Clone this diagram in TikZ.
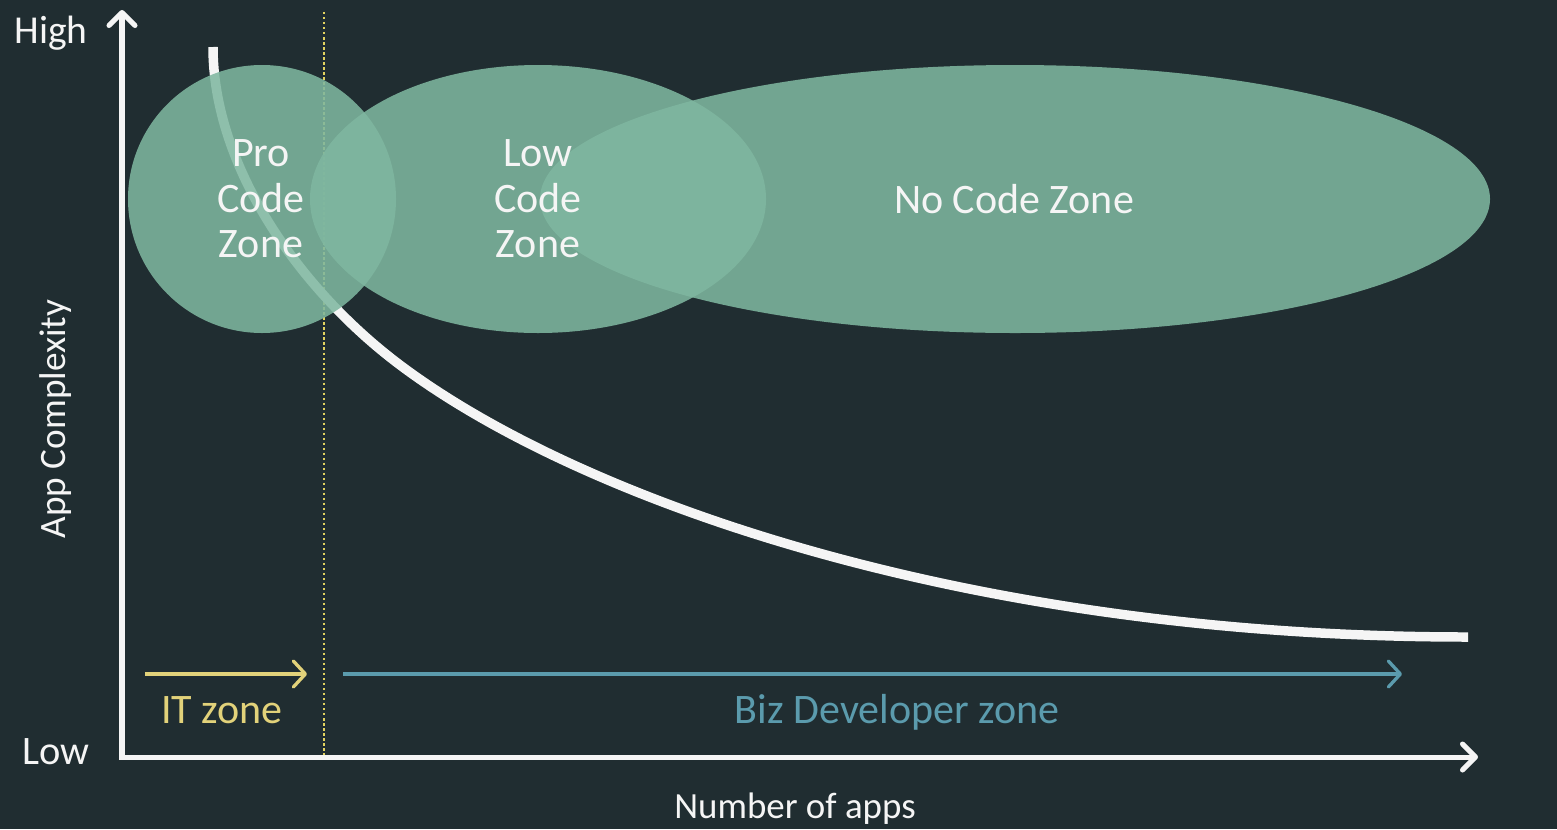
\documentclass[tikz,border=0pt]{standalone}
\usepackage{fontspec}
\setmainfont{Carlito}
\usetikzlibrary{arrows.meta}
\definecolor{bgdark}{HTML}{202D31}
\definecolor{zonegreen}{HTML}{7FB7A0}
\definecolor{axiswhite}{HTML}{F5F5F5}
\definecolor{itgold}{HTML}{E2D27A}
\definecolor{dotgold}{HTML}{E3D35F}
\definecolor{bizteal}{HTML}{5B9BAD}
\begin{document}
\begin{tikzpicture}[x=0.02cm,y=-0.02cm,
  axis/.style={line width=2.85pt,draw=axiswhite,
    {Straight Barb[length=7.4pt,width=14.8pt,round]}-{Straight Barb[length=7.4pt,width=14.8pt,round]}},
  zonearrow/.style={line width=1.9pt,-{Straight Barb[length=6.8pt,width=14.8pt,round]}},
  zone/.style={fill=zonegreen,fill opacity=0.87},
  zonetext/.style={inner sep=0pt,text=axiswhite,align=center,
    font=\fontsize{23.9}{25.9}\selectfont},
  axistext/.style={inner sep=0pt,anchor=base,text=axiswhite}]
\fill[bgdark] (0,0) rectangle (1557,829);
\coordinate (o) at (122,757);
\coordinate (ytop) at (122,10);
\coordinate (xend) at (1478,757);
\coordinate (dtop) at (324,12);
\coordinate (dbot) at (324,757);
\coordinate (itstart) at (145,674);
\coordinate (itend) at (307,674);
\coordinate (bizstart) at (343,674);
\coordinate (bizend) at (1402,674);
\coordinate (cstart) at (213,47);
\coordinate (cmid) at (400,365);
\coordinate (cend) at (1468,637);
\draw[dotgold,line width=1.1pt,dash pattern=on 1.4pt off 1.45pt] (dtop) -- (dbot);
\draw[axiswhite,line width=5.4pt] (cstart) .. controls (213,167) and (300,290) .. (cmid)
  .. controls (580,500) and (968,637) .. (cend);
\fill[zone] (262,199) ellipse [x radius=134,y radius=134];
\fill[zone] (538,199) ellipse [x radius=228,y radius=134];
\fill[zone] (1015,199) ellipse [x radius=475,y radius=134];
\node[zonetext] (pro) at (261,199) {Pro\\Code\\Zone};
\node[zonetext] (lowcode) at (538,199) {Low\\Code\\Zone};
\node[zonetext,anchor=base] (nocode) at (1014,213) {No Code Zone};
\draw[axis] (ytop) -- (o) -- (xend);
\node[axistext,font=\fontsize{22.5}{26}\selectfont] (high) at (51,43) {High};
\node[axistext,font=\fontsize{23}{26}\selectfont] (low) at (56,764) {Low};
\node[axistext,font=\fontsize{21.2}{24}\selectfont,rotate=90] (ylabel) at (65,419) {App Complexity};
\node[axistext,font=\fontsize{21}{24}\selectfont] (xlabel) at (795,818) {Number of apps};
\draw[zonearrow,itgold] (itstart) -- (itend);
\draw[zonearrow,bizteal] (bizstart) -- (bizend);
\node[axistext,text=itgold,font=\fontsize{23.9}{26}\selectfont] (itzone) at (222,723) {IT zone};
\node[axistext,text=bizteal,font=\fontsize{23.9}{26}\selectfont] (bizzone) at (897,723) {Biz Developer zone};
\end{tikzpicture}
\end{document}
